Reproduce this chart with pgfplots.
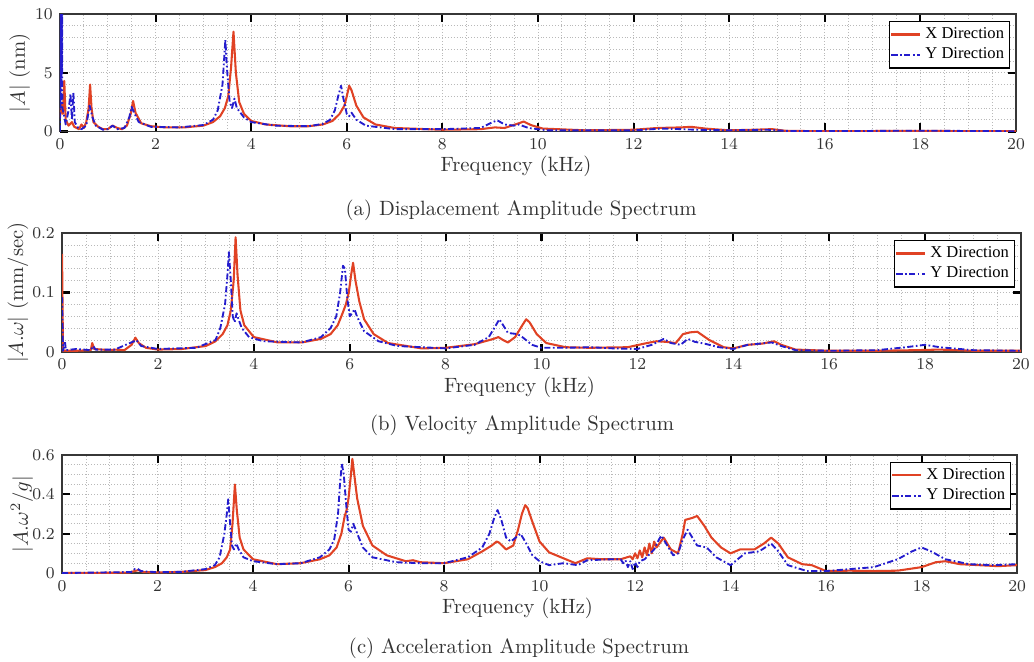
\documentclass[border=0pt]{standalone}
\usepackage{fontspec}
\usepackage{pgfplots}
\pgfplotsset{compat=1.18}
\newfontfamily\legfont{Liberation Serif}
\definecolor{xred}{RGB}{224,66,36}
\definecolor{yblue}{RGB}{36,28,205}
\definecolor{axgray}{RGB}{55,55,55}
\pgfplotsset{
  myaxis/.style={
    scale only axis,
    anchor=south west,
    xmin=0, xmax=20,
    xtick={0,2,...,20},
    minor x tick num=3,
    grid=both,
    major grid style={densely dotted, gray!55, line width=0.4pt},
    minor grid style={densely dotted, gray!55, line width=0.4pt},
    axis line style={axgray, line width=0.8pt},
    tick align=inside,
    tick pos=both,
    major tick length=4pt,
    minor tick length=0pt,
    every tick/.style={black, line width=1pt},
    tick label style={font=\fontsize{8.2}{9}\selectfont, text=black!80},
    label style={font=\fontsize{10}{12}\selectfont, text=black!80},
    xlabel={Frequency (kHz)},
    xlabel style={at={(axis description cs:0.477,-0.30)}, anchor=center},
    legend style={font=\legfont\fontsize{8}{9}\selectfont, draw=black, line width=0.6pt,
      at={(rel axis cs:1,1)}, anchor=north east, xshift=-3pt, yshift=-3.2pt,
      inner xsep=0.5pt, inner ysep=1pt, row sep=-1pt, cells={anchor=west}},
    legend image code/.code={\draw[#1] (0pt,0pt) -- (14pt,0pt);},
    legend cell align=left,
  },
  xline/.style={xred, line width=1pt, line join=round},
  yline/.style={yblue, line width=0.9pt, dash pattern=on 3pt off 1.2pt on 0.8pt off 1.2pt, line join=round},
}
\begin{document}
\begin{tikzpicture}
\useasboundingbox (0,0) rectangle (500pt,320.1pt);
% ---------------- (a) displacement
\begin{axis}[myaxis, at={(29pt,256.5pt)}, width=462.3pt, height=56.8pt,
  ymin=0, ymax=10, ytick={0,5,10}, minor y tick num=4,
  ylabel={$|A|$ (nm)}, ylabel style={at={(axis description cs:-0.042,0.5)}, anchor=center}]
\addplot[xline] coordinates {(0,1.2)(0.03,2.3)(0.06,1.5)(0.09,4.3)(0.12,1.0)(0.18,0.5)(0.25,0.8)(0.3,0.4)(0.4,0.2)(0.45,0.6)(0.5,0.3)(0.55,0.8)(0.6,2.0)(0.63,4.0)(0.66,2.0)(0.7,0.8)(0.8,0.4)(0.9,0.2)(1.0,0.2)(1.1,0.5)(1.2,0.3)(1.3,0.2)(1.4,0.5)(1.48,1.5)(1.53,2.6)(1.58,1.6)(1.7,0.7)(1.9,0.45)(2.2,0.35)(2.6,0.35)(3.0,0.5)(3.2,0.8)(3.35,1.3)(3.45,2.0)(3.52,3.0)(3.58,5.5)(3.63,8.5)(3.68,5.0)(3.75,2.5)(3.85,1.5)(4.0,0.9)(4.3,0.6)(4.8,0.45)(5.2,0.45)(5.5,0.6)(5.7,0.9)(5.85,1.5)(5.95,2.2)(6.0,3.0)(6.05,3.9)(6.1,3.5)(6.2,2.2)(6.35,1.2)(6.6,0.6)(7.0,0.3)(8.0,0.15)(8.8,0.2)(9.1,0.35)(9.3,0.3)(9.6,0.7)(9.7,0.85)(9.85,0.55)(10.1,0.25)(11,0.1)(12,0.15)(12.5,0.3)(13.0,0.35)(13.2,0.4)(13.5,0.25)(14,0.1)(14.5,0.15)(14.9,0.2)(15.2,0.05)(16,0.03)(18,0.05)(20,0.02)};
\addlegendentry{X Direction}
\addplot[yline] coordinates {(0,0)(0.005,10)(0.01,2)(0.015,10)(0.02,3)(0.025,10)(0.03,4)(0.035,10)(0.04,5)(0.045,10)(0.05,2)(0.08,1.5)(0.12,0.6)(0.18,1.8)(0.22,3.2)(0.25,1.0)(0.28,3.3)(0.31,0.8)(0.38,0.3)(0.45,0.2)(0.55,0.5)(0.62,2.2)(0.68,1.2)(0.75,0.5)(0.9,0.15)(1.0,0.2)(1.1,0.5)(1.2,0.2)(1.35,0.3)(1.45,1.2)(1.5,2.1)(1.55,1.6)(1.65,0.8)(1.9,0.4)(2.5,0.35)(3.0,0.55)(3.2,1.0)(3.3,1.8)(3.4,4.0)(3.46,7.8)(3.5,5.0)(3.55,2.5)(3.6,2.0)(3.65,2.8)(3.7,2.0)(3.85,1.2)(4.0,0.8)(4.5,0.5)(5.2,0.45)(5.5,0.65)(5.65,1.0)(5.75,1.8)(5.82,3.0)(5.88,3.9)(5.93,2.8)(6.0,1.5)(6.05,1.3)(6.1,1.6)(6.2,1.0)(6.4,0.5)(7,0.2)(8,0.2)(8.8,0.3)(9.05,0.8)(9.15,0.95)(9.3,0.6)(9.5,0.5)(9.6,0.6)(9.8,0.3)(10.2,0.1)(11,0.1)(12,0.1)(12.6,0.25)(13,0.2)(13.3,0.15)(14,0.1)(14.8,0.15)(15.2,0.05)(16,0.03)(18,0.07)(20,0.02)};
\addlegendentry{Y Direction}
\end{axis}
\node[font=\fontsize{10}{12}\selectfont, text=black!80] at (252pt,218.6pt) {(a) Displacement Amplitude Spectrum};
% ---------------- (b) velocity
\begin{axis}[myaxis, at={(30pt,149.9pt)}, width=463.7pt, height=57.5pt,
  ymin=0, ymax=0.2, ytick={0,0.1,0.2}, minor y tick num=4,
  yticklabel style={/pgf/number format/fixed},
  ylabel={$|A.\omega|$ (mm/sec)}, ylabel style={at={(axis description cs:-0.046,0.5)}, anchor=center}]
\addplot[xline] coordinates {(0,0.165)(0.02,0.002)(0.3,0.002)(0.6,0.003)(0.63,0.015)(0.67,0.005)(1.0,0.003)(1.1,0.004)(1.3,0.003)(1.45,0.012)(1.53,0.024)(1.6,0.015)(1.75,0.007)(2,0.004)(2.5,0.005)(3.0,0.01)(3.2,0.018)(3.35,0.03)(3.45,0.045)(3.52,0.07)(3.58,0.12)(3.62,0.193)(3.66,0.13)(3.72,0.07)(3.8,0.045)(4.0,0.025)(4.5,0.016)(5.0,0.016)(5.4,0.022)(5.6,0.03)(5.75,0.045)(5.85,0.065)(5.92,0.08)(5.98,0.1)(6.03,0.13)(6.07,0.15)(6.12,0.12)(6.2,0.085)(6.3,0.055)(6.5,0.03)(6.8,0.015)(7.5,0.006)(8.0,0.007)(8.6,0.013)(9.0,0.022)(9.1,0.025)(9.2,0.02)(9.3,0.016)(9.45,0.025)(9.6,0.045)(9.68,0.055)(9.75,0.05)(9.9,0.03)(10.1,0.015)(10.5,0.008)(11,0.007)(11.8,0.008)(12.2,0.015)(12.4,0.018)(12.6,0.017)(12.8,0.015)(12.95,0.03)(13.1,0.033)(13.25,0.034)(13.5,0.02)(13.8,0.008)(14,0.006)(14.3,0.012)(14.6,0.014)(14.85,0.018)(15.0,0.012)(15.3,0.004)(16,0.002)(17,0.002)(17.8,0.003)(18.3,0.004)(19,0.002)(20,0.002)};
\addlegendentry{X Direction}
\addplot[yline] coordinates {(0,0.092)(0.02,0.002)(0.06,0.018)(0.08,0.003)(0.3,0.005)(0.6,0.003)(0.65,0.01)(0.7,0.004)(1.1,0.004)(1.5,0.018)(1.55,0.02)(1.65,0.01)(2,0.005)(2.8,0.007)(3.2,0.02)(3.3,0.04)(3.4,0.08)(3.45,0.13)(3.48,0.168)(3.52,0.12)(3.56,0.06)(3.6,0.05)(3.64,0.065)(3.68,0.055)(3.75,0.04)(3.9,0.025)(4.2,0.018)(5.0,0.016)(5.4,0.025)(5.6,0.04)(5.72,0.06)(5.8,0.1)(5.86,0.145)(5.9,0.14)(5.95,0.09)(6.0,0.06)(6.05,0.065)(6.1,0.072)(6.15,0.06)(6.3,0.035)(6.6,0.018)(7,0.01)(8,0.006)(8.6,0.012)(8.9,0.025)(9.05,0.045)(9.12,0.055)(9.2,0.045)(9.3,0.032)(9.5,0.03)(9.6,0.025)(9.8,0.012)(10,0.007)(10.5,0.007)(11,0.008)(11.5,0.006)(12,0.005)(12.3,0.012)(12.55,0.022)(12.7,0.015)(12.9,0.012)(13.05,0.022)(13.2,0.017)(13.4,0.014)(13.7,0.008)(14,0.005)(14.3,0.012)(14.8,0.016)(15.0,0.01)(15.3,0.003)(16,0.002)(17,0.003)(17.6,0.008)(18,0.012)(18.3,0.008)(19,0.003)(20,0.002)};
\addlegendentry{Y Direction}
\end{axis}
\node[font=\fontsize{10}{12}\selectfont, text=black!80] at (252.5pt,114.6pt) {(b) Velocity Amplitude Spectrum};
% ---------------- (c) acceleration
\begin{axis}[myaxis, at={(30pt,43pt)}, width=461.8pt, height=57.1pt,
  ymin=0, ymax=0.6, ytick={0,0.2,0.4,0.6}, minor y tick num=3,
  yticklabel style={/pgf/number format/fixed},
  ylabel={$|A.\omega^2/g|$}, ylabel style={at={(axis description cs:-0.042,0.5)}, anchor=center}]
\addplot[xline] coordinates {(0,0.0)(1.4,0.002)(1.55,0.012)(1.6,0.015)(1.7,0.005)(2,0.003)(2.5,0.006)(3.0,0.015)(3.2,0.03)(3.35,0.05)(3.45,0.08)(3.52,0.12)(3.57,0.25)(3.62,0.45)(3.66,0.32)(3.72,0.18)(3.8,0.12)(4.0,0.07)(4.5,0.045)(5.0,0.05)(5.4,0.07)(5.6,0.09)(5.75,0.13)(5.85,0.2)(5.92,0.29)(5.96,0.32)(6.0,0.38)(6.05,0.5)(6.08,0.58)(6.12,0.5)(6.18,0.38)(6.3,0.24)(6.5,0.14)(6.8,0.09)(7.2,0.06)(7.35,0.065)(7.5,0.055)(8.0,0.05)(8.5,0.07)(8.8,0.11)(9.0,0.14)(9.1,0.16)(9.15,0.155)(9.3,0.12)(9.45,0.14)(9.55,0.22)(9.63,0.3)(9.7,0.345)(9.75,0.33)(9.85,0.26)(10,0.16)(10.2,0.105)(10.5,0.075)(10.75,0.05)(10.85,0.06)(11,0.075)(11.3,0.07)(11.7,0.07)(11.9,0.085)(11.95,0.07)(12.0,0.1)(12.05,0.075)(12.1,0.115)(12.15,0.08)(12.2,0.13)(12.25,0.09)(12.3,0.15)(12.35,0.1)(12.4,0.16)(12.45,0.13)(12.6,0.18)(12.75,0.12)(12.9,0.1)(12.95,0.15)(13.0,0.2)(13.05,0.27)(13.2,0.28)(13.3,0.29)(13.45,0.24)(13.6,0.18)(13.8,0.13)(14.0,0.1)(14.2,0.12)(14.5,0.12)(14.7,0.15)(14.85,0.18)(15.0,0.15)(15.2,0.08)(15.5,0.045)(15.7,0.04)(16,0.01)(16.5,0.012)(17,0.01)(17.5,0.012)(18,0.03)(18.3,0.055)(18.5,0.06)(18.8,0.045)(19.2,0.04)(19.6,0.035)(20,0.04)};
\addlegendentry{X Direction}
\addplot[yline] coordinates {(0,0)(1.45,0.005)(1.52,0.02)(1.58,0.022)(1.65,0.01)(2,0.004)(2.5,0.006)(3.0,0.02)(3.2,0.04)(3.3,0.08)(3.4,0.2)(3.45,0.3)(3.48,0.375)(3.52,0.25)(3.56,0.14)(3.6,0.12)(3.65,0.15)(3.7,0.12)(3.8,0.08)(4.0,0.06)(4.5,0.045)(5.0,0.05)(5.4,0.08)(5.6,0.12)(5.7,0.17)(5.78,0.3)(5.82,0.45)(5.86,0.555)(5.9,0.5)(5.95,0.35)(6.0,0.22)(6.05,0.21)(6.1,0.25)(6.15,0.22)(6.3,0.13)(6.5,0.08)(7,0.055)(7.5,0.05)(8,0.05)(8.5,0.08)(8.8,0.13)(8.95,0.2)(9.05,0.28)(9.12,0.32)(9.2,0.27)(9.3,0.18)(9.4,0.16)(9.55,0.19)(9.6,0.2)(9.7,0.16)(9.85,0.09)(10,0.06)(10.2,0.04)(10.5,0.05)(10.8,0.04)(11.0,0.065)(11.5,0.07)(11.7,0.07)(11.75,0.05)(11.8,0.065)(11.85,0.03)(11.9,0.06)(11.95,0.02)(12.0,0.055)(12.05,0.03)(12.1,0.06)(12.2,0.07)(12.4,0.12)(12.5,0.17)(12.55,0.19)(12.65,0.15)(12.8,0.09)(12.9,0.1)(13.0,0.17)(13.1,0.22)(13.2,0.18)(13.3,0.14)(13.5,0.13)(13.7,0.08)(14.0,0.04)(14.3,0.1)(14.6,0.11)(14.85,0.15)(15.0,0.11)(15.2,0.04)(15.6,0.01)(16,0.01)(16.5,0.02)(17,0.03)(17.5,0.07)(17.8,0.11)(18,0.13)(18.2,0.11)(18.5,0.07)(19,0.045)(19.5,0.04)(20,0.045)};
\addlegendentry{Y Direction}
\end{axis}
\node[font=\fontsize{10}{12}\selectfont, text=black!80] at (251pt,6.8pt) {(c) Acceleration Amplitude Spectrum};
\end{tikzpicture}
\end{document}
